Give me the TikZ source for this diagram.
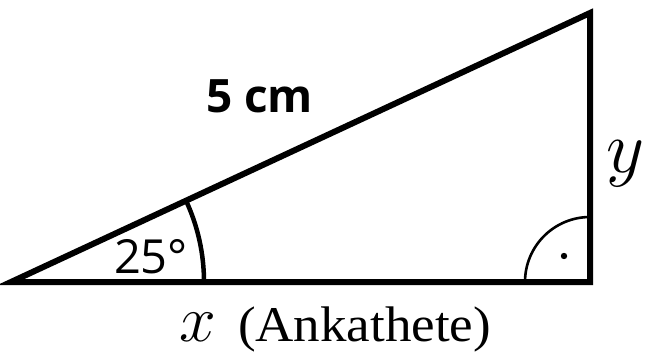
\documentclass[tikz,border=0pt]{standalone}
\usepackage{fix-cm}
\usepackage{fontspec}
\newfontfamily\labsans{Open Sans}
\newfontfamily\labserif[FakeStretch=1.06]{Liberation Serif}
\begin{document}
\begin{tikzpicture}[x=1pt,y=1pt,
  side/.style={line width=6pt, line join=miter},
  anglemark/.style={line width=4.5pt},
  rightmark/.style={line width=2.6pt},
  lab/.style={inner sep=0pt, outer sep=0pt}]
\useasboundingbox (0,0) rectangle (645,354);
\coordinate (A) at (11,72);
\coordinate (B) at (590,72);
\coordinate (C) at (590,341);
\draw[side] (A) -- (B) -- (C) -- cycle;
% angle arc at A
\draw[anglemark] ([shift={(0:193)}]A) arc[start angle=0, end angle=24.9, radius=193];
% right angle mark
\draw[rightmark] ([shift={(180:65)}]B) arc[start angle=180, end angle=90, radius=65];
\fill ([shift={(-26,26)}]B) circle[radius=3.2];
% labels
\node[lab, anchor=base west, font=\labsans\bfseries\fontsize{46}{50}\selectfont] (hyp) at (206,241) {5 cm};
\node[lab, anchor=base west, font=\labsans\fontsize{47}{50}\selectfont] (ang) at (114,81) {25°};
\node[lab, anchor=base west, font=\fontsize{74}{78}\selectfont] (ylab) at (606,182) {$y$};
\node[lab, anchor=base west, font=\fontsize{66}{70}\selectfont] (xlab) at (179,13) {$x$};
\node[lab, anchor=base west, font=\labserif\fontsize{50}{54}\selectfont] (ank) at (238,13) {(Ankathete)};
\end{tikzpicture}
\end{document}
